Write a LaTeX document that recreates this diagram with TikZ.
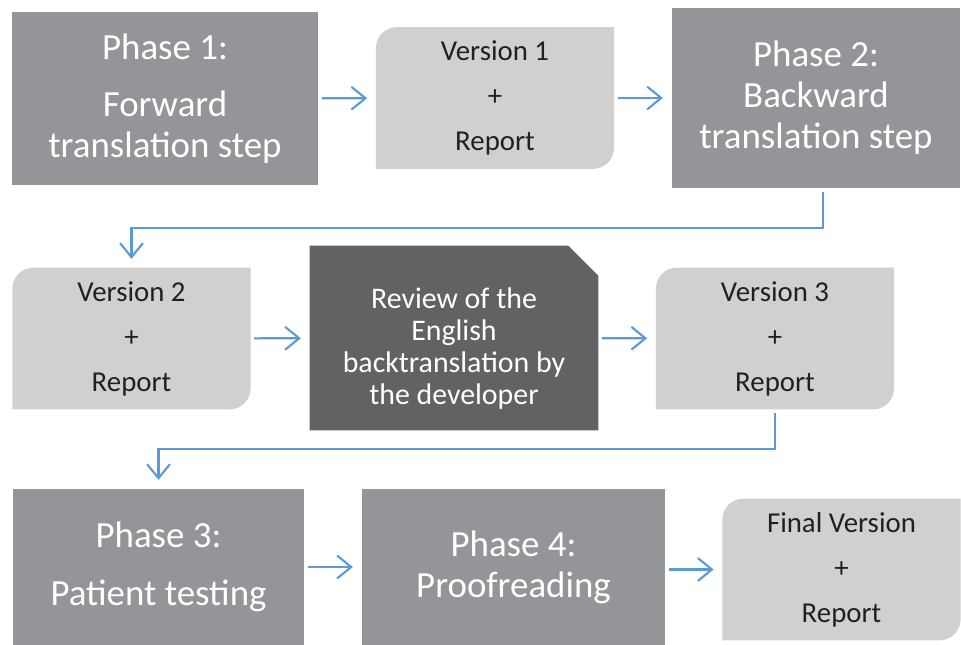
\documentclass[tikz,border=0pt]{standalone}
\usepackage{fontspec}
\setmainfont{Carlito}
\usepackage{xcolor}
\usepackage{tikz}
\usetikzlibrary{positioning,arrows.meta,backgrounds,calc}
\definecolor{PhaseGray}{HTML}{939598}
\definecolor{VersionGray}{HTML}{D1D0CF}
\definecolor{ReviewGray}{HTML}{626264}
\definecolor{ArrowBlue}{HTML}{5B9BD5}
\definecolor{TextDark}{HTML}{231F20}

\begin{document}
\begin{tikzpicture}[
          phase/.style={fill=PhaseGray, text=white, align=center, inner sep=0pt,
            font=\fontsize{21}{23.3}\selectfont},
          version/.style={text=TextDark, align=center, inner sep=0pt,
            minimum width=4.75cm, minimum height=2.82cm,
            font=\fontsize{16.4}{25.6}\selectfont},
          ar/.style={-{Straight Barb[length=8pt,width=13pt]}, line width=1.2pt,
            ArrowBlue, shorten <=2pt, shorten >=5pt}]
        \useasboundingbox (0,0) rectangle (19.22,-12.9);
        % row 1
        \node[phase, minimum width=6.12cm, minimum height=3.46cm]
        (p1) at (3.30,-1.97)
        {Phase 1:\\[0.32cm]Forward\\translation step};
        \node[version] (v1) at (9.90,-1.96) {Version 1\\+\\Report};
        \node[phase, minimum width=5.76cm, minimum height=3.60cm]
        (p2) at (16.32,-1.96)
        {Phase 2:\\Backward\\translation step};
        % row 2
        \node[version] (v2) at (2.63,-6.77) {Version 2\\+\\Report};
        \node[text=white, align=center, inner sep=0pt,
          minimum width=5.76cm, minimum height=3.68cm,
          font=\fontsize{17}{18.2}\selectfont]
        (rev) at (9.08,-6.76)
        {\rule{0pt}{24pt}Review of the\\English\\backtranslation by\\the developer};
        \node[version] (v3) at (15.50,-6.77) {Version 3\\+\\Report};
        % row 3
        \node[phase, minimum width=5.82cm, minimum height=3.12cm]
        (p3) at (3.17,-11.34)
        {Phase 3:\\[0.34cm]Patient testing};
        \node[phase, minimum width=6.06cm, minimum height=3.12cm]
        (p4) at (10.27,-11.34)
        {Phase 4:\\Proofreading};
        \node[version] (vf) at (16.83,-11.39) {Final Version\\+\\Report};
        % shapes behind the text
        \begin{scope}[on background layer]
          \foreach \v in {v1,v2,v3,vf}
            \fill[VersionGray] (\v.south west) -- ([yshift=-0.42cm]\v.north west)
              arc[start angle=180, end angle=90, radius=0.42cm] -- (\v.north east)
              -- ([yshift=0.42cm]\v.south east)
              arc[start angle=0, end angle=-90, radius=0.42cm] -- cycle;
          \fill[ReviewGray] (rev.south west) -- (rev.north west)
            -- ([xshift=-0.6cm]rev.north east) -- ([yshift=-0.6cm]rev.north east)
            -- (rev.south east) -- cycle;
        \end{scope}
        \draw[ar] (p1)--(v1); \draw[ar] (v1)--(p2);
        \draw[ar] ([xshift=0.14cm]p2.south) -- ++(0,-0.8) -| (v2.north);
        \draw[ar] (v2)--(rev); \draw[ar] (rev)--(v3);
        \draw[ar] (v3.south) -- ++(0,-0.8) -| (p3.north);
        \draw[ar] (p3)--(p4); \draw[ar] (p4.east |- vf.west)--(vf.west);
      \end{tikzpicture}
\end{document}
